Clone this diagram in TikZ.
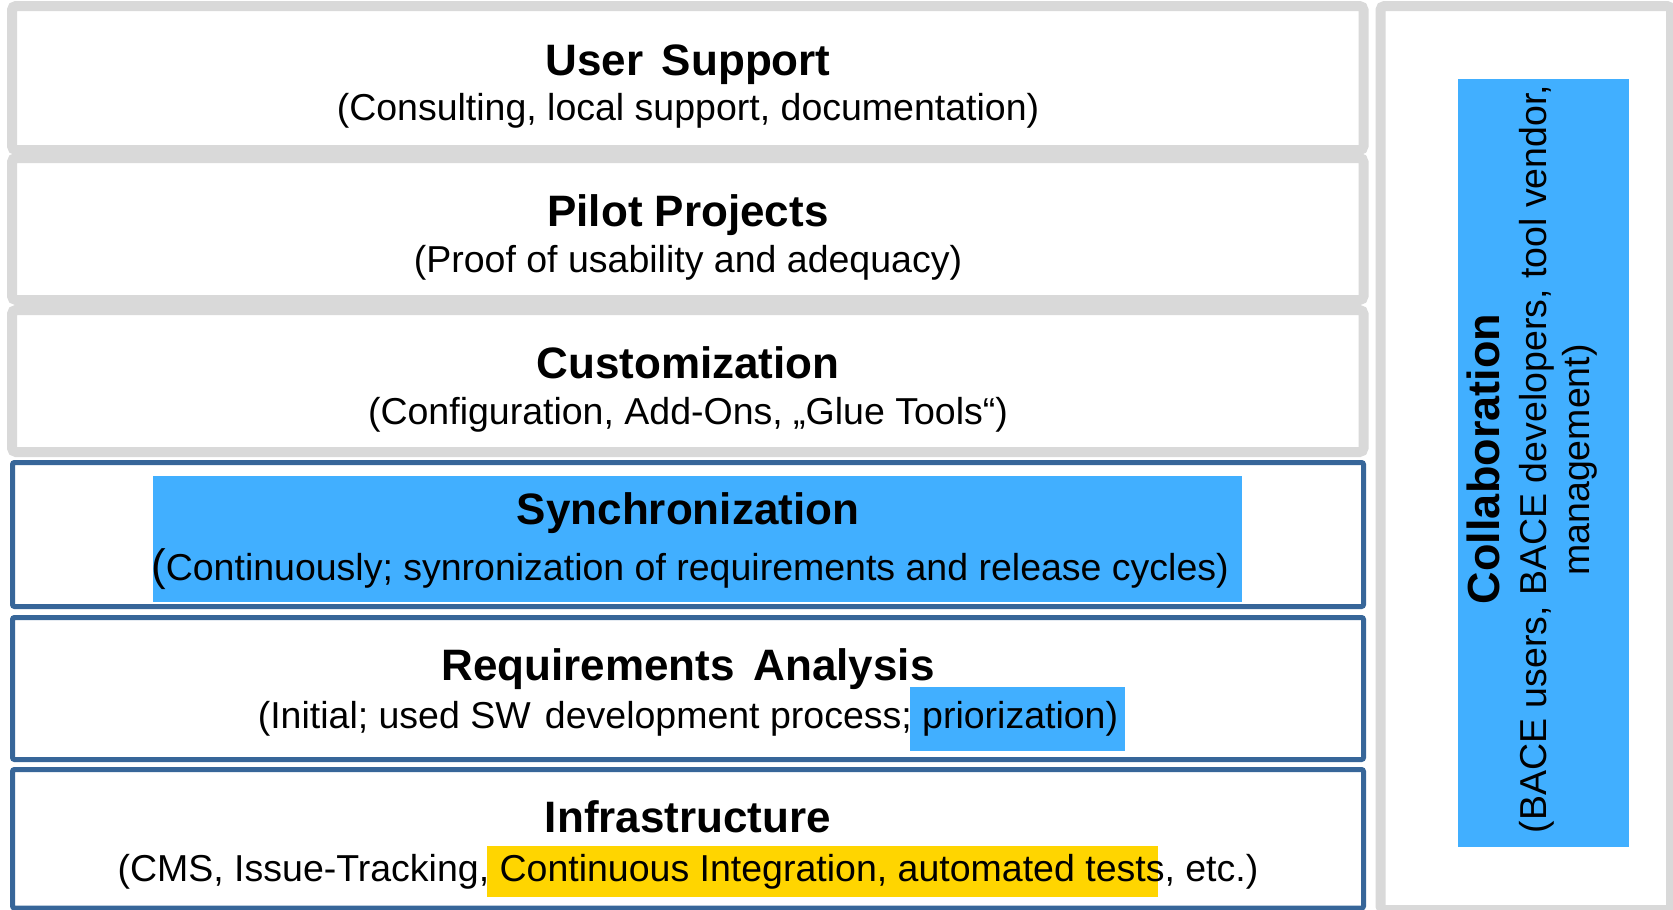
\documentclass[tikz,border=0pt]{standalone}
\usepackage{fontspec}
\setmainfont{Liberation Sans}
\definecolor{greyb}{HTML}{D9D9D9}
\definecolor{blueb}{HTML}{376699}
\definecolor{hlblue}{HTML}{41AFFF}
\definecolor{hlyel}{HTML}{FFD500}
\begin{document}
\begin{tikzpicture}[x=1pt,y=-1pt,
  greybox/.style={draw=greyb,line width=10pt,rounded corners=4pt},
  bluebox/.style={draw=blueb,line width=5pt,rounded corners=2pt},
  ttl/.style={anchor=base,inner sep=0pt,font=\fontsize{44}{50}\selectfont\bfseries},
  subt/.style={anchor=base,inner sep=0pt,font=\fontsize{37.5}{44}\selectfont},
  rot/.style={anchor=base,inner sep=0pt,rotate=90},
]
\useasboundingbox (0,0) rectangle (1673,910);
\fill[white] (0,0) rectangle (1673,910);

% left layer boxes
\draw[greybox] (12,6) rectangle (1363.5,150);
\draw[greybox] (12,158) rectangle (1363.5,300);
\draw[greybox] (12,310) rectangle (1363.5,452);
\draw[bluebox] (12.5,462.5) rectangle (1363.5,606.5);
\draw[bluebox] (12.5,617.5) rectangle (1363.5,759.5);
\draw[bluebox] (12.5,769.5) rectangle (1363.5,908);

% right panel
\draw[greybox] (1380.5,6) rectangle (1671,910);
\fill[hlblue] (1458,79) rectangle (1629,847);

% highlights
\fill[hlblue] (153,476) rectangle (1242,602);
\fill[hlblue] (910,687) rectangle (1125,751);
\fill[hlyel] (487,846) rectangle (1158,897);

% texts
\node[ttl] (t1) at (688,75) {User\hspace{0.15em} Support};
\node[subt] (s1) at (688,120) {(Consulting, local support, documentation)};
\node[ttl] (t2) at (688,226) {Pilot Projects};
\node[subt] (s2) at (688,272) {(Proof of usability and adequacy)};
\node[ttl] (t3) at (688,378) {Customization};
\node[subt] (s3) at (688,424) {(Configuration, Add-Ons, „Glue Tools“)};
\node[ttl] (t4) at (688,524) {Synchronization};
\node[subt] (s4) at (690,580) {{\fontsize{44}{50}\selectfont(}Continuously; synronization of requirements and release cycles)};
\node[ttl] (t5) at (688,680) {Requirements\hspace{0.15em} Analysis};
\node[subt] (s5) at (688,728) {(Initial; used SW\hspace{0.1em} development process; priorization)};
\node[ttl] (t6) at (688,832) {Infrastructure};
\node[subt] (s6) at (688,881) {(CMS, Issue-Tracking, Continuous Integration, automated tests, etc.)};

% rotated collaboration texts
\node[rot,font=\fontsize{45}{50}\selectfont\bfseries] (c1) at (1499,459) {Collaboration};
\node[rot,font=\fontsize{37.5}{44}\selectfont] (c2) at (1546,459) {(BACE users, BACE developers, tool vendor,};
\node[rot,font=\fontsize{37.5}{44}\selectfont] (c3) at (1589,460) {management)};
\end{tikzpicture}
\end{document}
